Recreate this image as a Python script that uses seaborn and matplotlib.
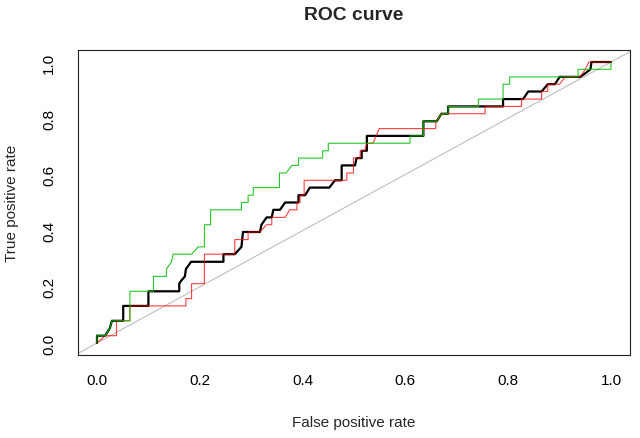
import matplotlib
matplotlib.use("Agg")
import matplotlib.pyplot as plt
import seaborn as sns
import pandas as pd

# ROC curves (false positive rate, true positive rate)
black_fpr = [0.000, 0.000, 0.016, 0.025, 0.029, 0.051, 0.051, 0.100, 0.100, 0.160, 0.160, 0.163,
             0.171, 0.173, 0.183, 0.246, 0.246, 0.268, 0.281, 0.284, 0.317, 0.320, 0.330, 0.340,
             0.343, 0.356, 0.366, 0.392, 0.392, 0.405, 0.414, 0.452, 0.463, 0.476, 0.476, 0.502,
             0.505, 0.515, 0.515, 0.525, 0.525, 0.635, 0.635, 0.661, 0.670, 0.683, 0.683, 0.790,
             0.790, 0.829, 0.839, 0.865, 0.877, 0.891, 0.900, 0.940, 0.950, 0.960, 0.962, 1.000]
black_tpr = [0.000, 0.026, 0.026, 0.053, 0.079, 0.079, 0.132, 0.132, 0.184, 0.184, 0.211, 0.220,
             0.237, 0.263, 0.289, 0.289, 0.316, 0.316, 0.342, 0.395, 0.395, 0.421, 0.447, 0.447,
             0.474, 0.474, 0.500, 0.500, 0.526, 0.526, 0.553, 0.553, 0.579, 0.579, 0.632, 0.632,
             0.658, 0.658, 0.684, 0.684, 0.737, 0.737, 0.789, 0.789, 0.816, 0.816, 0.842, 0.842,
             0.868, 0.868, 0.895, 0.895, 0.921, 0.921, 0.947, 0.947, 0.960, 0.974, 1.000, 1.000]

red_fpr = [0.000, 0.016, 0.038, 0.038, 0.064, 0.064, 0.173, 0.173, 0.184, 0.184, 0.209, 0.209,
           0.268, 0.268, 0.294, 0.294, 0.317, 0.330, 0.340, 0.340, 0.366, 0.375, 0.389, 0.389,
           0.395, 0.395, 0.403, 0.403, 0.486, 0.486, 0.499, 0.499, 0.512, 0.512, 0.521, 0.525,
           0.537, 0.549, 0.659, 0.659, 0.670, 0.755, 0.755, 0.826, 0.826, 0.865, 0.865, 0.877,
           0.877, 0.900, 0.911, 0.940, 0.950, 0.957, 1.000]
red_tpr = [0.000, 0.026, 0.026, 0.079, 0.079, 0.132, 0.132, 0.158, 0.158, 0.211, 0.211, 0.316,
           0.316, 0.368, 0.368, 0.395, 0.395, 0.421, 0.421, 0.447, 0.447, 0.474, 0.474, 0.500,
           0.500, 0.526, 0.526, 0.579, 0.579, 0.605, 0.605, 0.658, 0.658, 0.684, 0.684, 0.711,
           0.711, 0.763, 0.763, 0.789, 0.816, 0.816, 0.842, 0.842, 0.868, 0.868, 0.895, 0.895,
           0.921, 0.921, 0.947, 0.947, 0.974, 1.000, 1.000]

green_fpr = [0.000, 0.000, 0.016, 0.025, 0.029, 0.064, 0.064, 0.110, 0.110, 0.135, 0.135, 0.145,
             0.148, 0.184, 0.197, 0.209, 0.209, 0.221, 0.221, 0.281, 0.281, 0.294, 0.294, 0.304,
             0.304, 0.355, 0.355, 0.368, 0.379, 0.392, 0.392, 0.439, 0.439, 0.450, 0.450, 0.609,
             0.609, 0.635, 0.635, 0.661, 0.670, 0.683, 0.683, 0.742, 0.742, 0.790, 0.790, 0.803,
             0.803, 0.936, 0.936, 1.000, 1.000]
green_tpr = [0.000, 0.026, 0.026, 0.053, 0.079, 0.079, 0.184, 0.184, 0.237, 0.237, 0.263, 0.289,
             0.316, 0.316, 0.342, 0.342, 0.421, 0.421, 0.474, 0.474, 0.500, 0.500, 0.526, 0.526,
             0.553, 0.553, 0.605, 0.605, 0.632, 0.632, 0.658, 0.658, 0.684, 0.684, 0.711, 0.711,
             0.737, 0.737, 0.789, 0.789, 0.816, 0.816, 0.842, 0.842, 0.868, 0.868, 0.921, 0.921,
             0.947, 0.947, 0.974, 0.974, 1.000]

ticks = [0.0, 0.2, 0.4, 0.6, 0.8, 1.0]
tick_labels = ["0.0", "0.2", "0.4", "0.6", "0.8", "1.0"]

sns.set_style("white")
plt.rcParams["font.family"] = ["Liberation Sans", "DejaVu Sans"]

fig = plt.figure(figsize=(6.4, 4.39), dpi=100)
ax = fig.add_axes([78 / 640, 1 - 356 / 439, (630 - 78) / 640, (356 - 51) / 439])

ax.axline((0, 0), (1, 1), color="#BEBEBE", lw=0.8, zorder=1)

sns.lineplot(x=black_fpr, y=black_tpr, sort=False, estimator=None, color="black",
             lw=1.6, ax=ax, zorder=2)
sns.lineplot(x=red_fpr, y=red_tpr, sort=False, estimator=None, color="#FF0000",
             alpha=0.75, lw=0.8, ax=ax, zorder=3)
sns.lineplot(x=green_fpr, y=green_tpr, sort=False, estimator=None, color="#00C000",
             alpha=0.85, lw=0.8, ax=ax, zorder=4)

ax.set_xlim(-19 / 514, 1 + 19 / 514)
ax.set_ylim(-12 / 281, 1 + 12 / 281)
ax.set_xticks(ticks)
ax.set_xticklabels(tick_labels)
ax.set_yticks(ticks)
ax.set_yticklabels(tick_labels, rotation=90, va="center")
ax.tick_params(axis="both", direction="out", length=5.2, width=0.72, colors="#333333",
               labelcolor="black", labelsize=11, pad=8)
ax.tick_params(axis="y", pad=10.5)
for s in ax.spines.values():
    s.set_visible(True)
    s.set_color("#222222")
    s.set_linewidth(0.8)
ax.set_xlabel("")
ax.set_ylabel("")

fig.text(354 / 640, 1 - 16 / 439, "ROC curve", ha="center", va="center",
         fontsize=13.9, fontweight="bold")
fig.text(354 / 640, 1 - 423 / 439, "False positive rate", ha="center", va="center",
         fontsize=11)
fig.text(12 / 640, 1 - 203 / 439, "True positive rate", ha="center", va="center",
         fontsize=11, rotation=90)

fig.savefig("out.png", dpi=100)
